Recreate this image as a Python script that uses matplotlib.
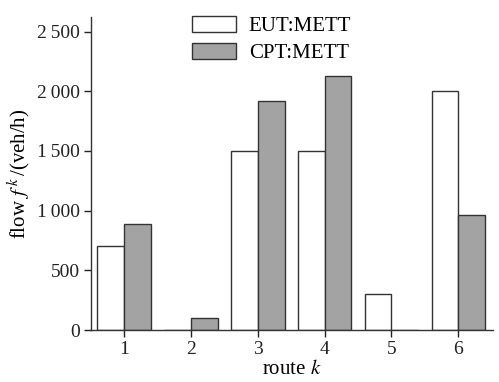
import matplotlib
matplotlib.use("Agg")
import matplotlib.pyplot as plt
import numpy as np

routes = [1, 2, 3, 4, 5, 6]
eut = [700, 0, 1500, 1500, 300, 2000]
cpt = [890, 100, 1920, 2125, 0, 965]
yticks = [0, 500, 1000, 1500, 2000, 2500]
ytick_labels = ["0", "500", "1\u2009000", "1\u2009500", "2\u2009000", "2\u2009500"]

plt.rcParams['font.family'] = ['Liberation Serif', 'DejaVu Serif']
plt.rcParams['mathtext.fontset'] = 'stix'

fig = plt.figure(figsize=(4.99, 3.82), dpi=100)
ax = fig.add_axes([0.182, 0.136, 0.806, 0.819])

x = np.array(routes)
w = 0.4
ax.bar(x, eut, width=-w, align='edge', color='white', edgecolor='#333333', linewidth=1.0, label='EUT:METT')
ax.bar(x, cpt, width=w, align='edge', color='#a3a3a3', edgecolor='#333333', linewidth=1.0, label='CPT:METT')

ax.set_xlim(0.5, 6.52)
ax.set_ylim(0, 2620)
ax.set_xticks(routes)
ax.set_xticklabels([str(r) for r in routes])
ax.set_yticks(yticks)
ax.set_yticklabels(ytick_labels)
ax.tick_params(axis='both', labelsize=14, direction='out', length=5, width=1, colors='#222222', pad=3)
for s in ['top', 'right']:
    ax.spines[s].set_visible(False)
for s in ['left', 'bottom']:
    ax.spines[s].set_color('#333333')
    ax.spines[s].set_linewidth(1.0)

ax.set_xlabel('route $k$', fontsize=15, labelpad=1)
ax.set_ylabel('flow $f^{\\,k}\\,$/(veh/h)', fontsize=15, labelpad=3)

leg = ax.legend(loc='upper center', bbox_to_anchor=(0.45, 1.065), frameon=False, fontsize=15,
                handlelength=2.1, handleheight=0.8, labelspacing=0.35, handletextpad=0.6)

fig.savefig('out.png', dpi=100)
